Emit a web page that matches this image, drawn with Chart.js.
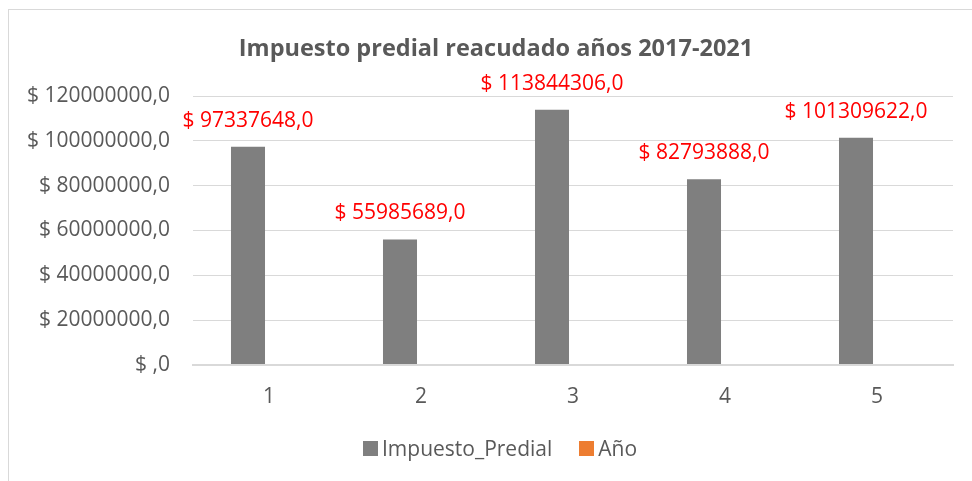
<!DOCTYPE html>
<html>
<head>
<meta charset="utf-8">
<script src="https://cdn.jsdelivr.net/npm/chart.js@4/dist/chart.umd.min.js"></script>
<style>
  html, body { margin: 0; padding: 0; background: #fff; }
  #wrap { position: relative; width: 972px; height: 481px; overflow: hidden; font-family: 'Open Sans', 'Noto Sans', sans-serif; }
  #frame {
    position: absolute; left: 8px; top: 9px; right: -2px; bottom: -2px;
    border-top: 1px solid #d9d9d9; border-left: 1px solid #d9d9d9;
  }
  canvas { position: absolute; left: 0; top: 0; }
  #title {
    position: absolute; left: 0; top: 31px; width: 992px; text-align: center;
    font-size: 23.5px; line-height: 32px; font-weight: bold; color: #595959;
  }
  #legend {
    position: absolute; left: 363px; top: 434px; display: flex; align-items: center;
    font-size: 21px; line-height: 29px; color: #595959;
  }
  #legend .item { display: flex; align-items: center; margin-right: 27px; }
  #legend .box { width: 15px; height: 15px; margin-right: 4px; }
</style>
</head>
<body>
<div id="wrap">
  <div id="frame"></div>
  <canvas id="chart"></canvas>
  <div id="title">Impuesto predial reacudado años 2017-2021</div>
  <div id="legend"></div>
</div>
<script>
// Datos
const categories = ['1', '2', '3', '4', '5']
const impuestoPredial = [97337648, 55985689, 113844306, 82793888, 101309622]
const anio = [2017, 2018, 2019, 2020, 2021]
const yTicks = [0, 20000000, 40000000, 60000000, 80000000, 100000000, 120000000]

const FONT = "'Open Sans', 'Noto Sans', sans-serif"
const textGray = '#595959'

function money(v) {
  if (v === 0) return '$ ,0'
  return '$ ' + v + ',0'
}

// etiquetas rojas encima de cada barra
const valueLabels = {
  id: 'valueLabels',
  afterDatasetsDraw(chart) {
    const ctx = chart.ctx
    const meta = chart.getDatasetMeta(0)
    ctx.save()
    ctx.font = '21px ' + FONT
    ctx.fillStyle = '#ff0000'
    ctx.textAlign = 'center'
    ctx.textBaseline = 'middle'
    meta.data.forEach((bar, i) => {
      ctx.fillText(money(impuestoPredial[i]), bar.x, bar.y - 26)
    })
    ctx.restore()
  }
}

const chart = new Chart(document.getElementById('chart').getContext('2d'), {
  type: 'bar',
  data: {
    labels: categories,
    datasets: [
      {
        label: 'Impuesto_Predial',
        data: impuestoPredial,
        backgroundColor: '#7f7f7f',
        categoryPercentage: 0.5526,
        barPercentage: 0.81,
      },
      {
        label: 'Año',
        data: anio,
        backgroundColor: '#ed7d31',
        categoryPercentage: 0.5526,
        barPercentage: 0.81,
      }
    ]
  },
  options: {
    responsive: true,
    maintainAspectRatio: false,
    animation: false,
    layout: {
      padding: { left: 0, right: 19, top: 96, bottom: 51 }
    },
    plugins: {
      title: { display: false },
      legend: { display: false },
      tooltip: { enabled: false }
    },
    scales: {
      x: {
        grid: { display: false, drawTicks: false },
        border: { display: true, color: '#d9d9d9', width: 2, z: 1 },
        ticks: {
          color: textGray,
          font: { family: FONT, size: 21 },
          padding: 20,
        }
      },
      y: {
        min: 0,
        max: 120000000,
        afterFit(scale) { scale.width = 193 },
        afterBuildTicks(scale) { scale.ticks = yTicks.map(v => ({ value: v })) },
        grid: { color: '#d9d9d9', drawTicks: false },
        border: { display: false },
        ticks: {
          color: textGray,
          font: { family: FONT, size: 21 },
          padding: 23,
          callback: v => money(v)
        }
      }
    }
  },
  plugins: [valueLabels]
})

// leyenda a partir de los datasets
const legendEl = document.getElementById('legend')
chart.data.datasets.forEach(ds => {
  const item = document.createElement('div')
  item.className = 'item'
  const box = document.createElement('span')
  box.className = 'box'
  box.style.background = ds.backgroundColor
  const txt = document.createElement('span')
  txt.textContent = ds.label
  item.appendChild(box)
  item.appendChild(txt)
  legendEl.appendChild(item)
})
</script>
</body>
</html>
